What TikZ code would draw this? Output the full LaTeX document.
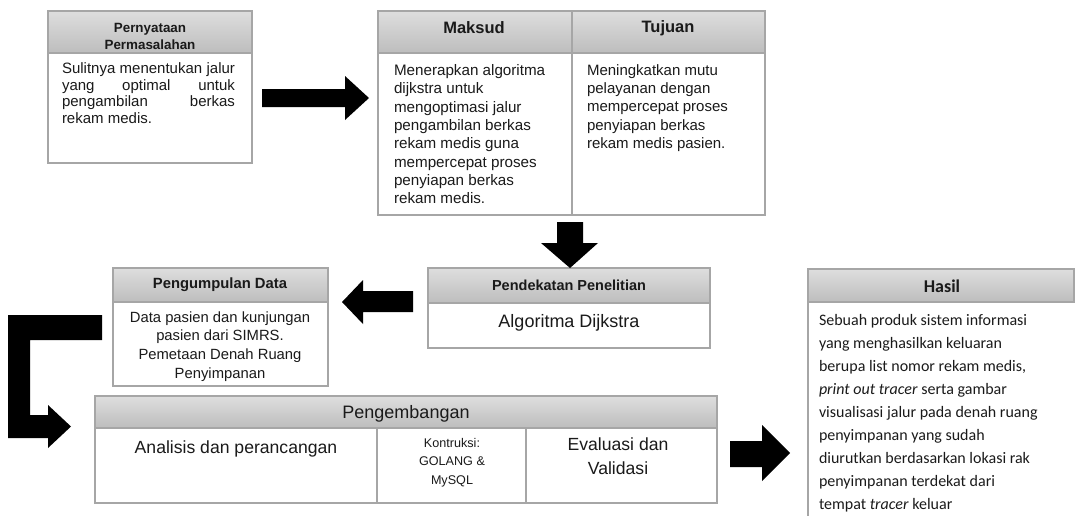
\documentclass[tikz,border=0pt]{standalone}
\usepackage{fontspec}
\setmainfont{Liberation Sans}
\newfontfamily\calfont{Carlito}
\definecolor{bordergray}{HTML}{A6A6A6}
\definecolor{hdrtop}{HTML}{DEDEDE}
\definecolor{hdrbot}{HTML}{BDBDBD}
\definecolor{txt}{HTML}{1A1A1A}
\newcommand\fs[2]{\fontsize{#1}{#2}\selectfont}
\begin{document}
\begin{tikzpicture}[x=1pt,y=-1pt,
  hdr/.style={draw=bordergray,line width=1.2pt,top color=hdrtop,bottom color=hdrbot,anchor=north west,inner sep=0pt,outer sep=0pt},
  cell/.style={draw=bordergray,line width=1.2pt,fill=white,anchor=north west,inner sep=0pt,outer sep=0pt},
  lbl/.style={inner sep=0pt,outer sep=0pt,text=txt},
  blk/.style={fill=black}]
\useasboundingbox (0,0) rectangle (1075,515);
\clip (0,0) rectangle (1075,515);

% ---- Pernyataan Permasalahan
\node[cell,minimum width=204pt,minimum height=110pt] (p1b) at (48,53) {};
\node[hdr,minimum width=204pt,minimum height=42pt] (p1h) at (48,11) {};
\node[lbl,align=center,font=\bfseries\fs{13.4}{17}] (p1ht) at (150,36.8) {Pernyataan\\Permasalahan};
\node[lbl,anchor=north west,align=left,font=\fs{15}{16.7}] (p1t) at (62,62.6)
  {\makebox[173pt][s]{Sulitnya menentukan jalur}\\\makebox[173pt][s]{yang optimal untuk}\\\makebox[173pt][s]{pengambilan berkas}\\rekam medis.};

% ---- Maksud / Tujuan
\node[cell,minimum width=194pt,minimum height=162pt] (m2b) at (378,53) {};
\node[cell,minimum width=193pt,minimum height=162pt] (t2b) at (572,53) {};
\node[hdr,minimum width=194pt,minimum height=42pt] (m2h) at (378,11) {};
\node[hdr,minimum width=193pt,minimum height=42pt] (t2h) at (572,11) {};
\node[lbl,font=\bfseries\fs{16.5}{20}] (m2ht) at (474,28) {Maksud};
\node[lbl,font=\bfseries\fs{16.5}{20}] (t2ht) at (668,28) {Tujuan};
\node[lbl,anchor=north west,align=left,font=\fs{15.2}{18.3}] (m2t) at (394,64.5)
  {Menerapkan algoritma\\dijkstra untuk\\mengoptimasi jalur\\pengambilan berkas\\rekam medis guna\\mempercepat proses\\penyiapan berkas\\rekam medis.};
\node[lbl,anchor=north west,align=left,font=\fs{15}{18.3}] (t2t) at (587,64.5)
  {Meningkatkan mutu\\pelayanan dengan\\mempercepat proses\\penyiapan berkas\\rekam medis pasien.};

% ---- Pendekatan Penelitian
\node[cell,minimum width=282pt,minimum height=45pt] (d3b) at (428,303) {};
\node[hdr,minimum width=282pt,minimum height=35pt] (d3h) at (428,268) {};
\node[lbl,font=\bfseries\fs{14.5}{17}] (d3ht) at (569,285) {Pendekatan Penelitian};
\node[lbl,font=\fs{18}{21}] (d3t) at (569,322.5) {Algoritma Dijkstra};

% ---- Pengumpulan Data
\node[cell,minimum width=215pt,minimum height=84pt] (g4b) at (113,302) {};
\node[hdr,minimum width=215pt,minimum height=34pt] (g4h) at (113,268) {};
\node[lbl,font=\bfseries\fs{14.8}{17}] (g4ht) at (220,285) {Pengumpulan Data};
\node[lbl,align=center,font=\fs{14.8}{18.7}] (g4t) at (220,346.5)
  {Data pasien dan kunjungan\\pasien dari SIMRS.\\Pemetaan Denah Ruang\\Penyimpanan};

% ---- Pengembangan
\node[cell,minimum width=282pt,minimum height=75pt] (e5a) at (95,428) {};
\node[cell,minimum width=149pt,minimum height=75pt] (e5b) at (377,428) {};
\node[cell,minimum width=191pt,minimum height=75pt] (e5c) at (526,428) {};
\node[hdr,minimum width=622pt,minimum height=32pt] (e5h) at (95,396) {};
\node[lbl,font=\fs{18}{21}] (e5ht) at (406,413.5) {Pengembangan};
\node[lbl,font=\fs{17.6}{21}] (e5at) at (236,448.5) {Analisis dan perancangan};
\node[lbl,align=center,font=\fs{12.6}{18.5}] (e5bt) at (452,462.5) {Kontruksi:\\GOLANG \&\\MySQL};
\node[lbl,align=center,font=\fs{17.6}{24}] (e5ct) at (618,456.5) {Evaluasi dan\\Validasi};

% ---- Hasil
\node[lbl,minimum width=266pt,minimum height=220pt,anchor=north west] (h6b) at (808,302) {};
\draw[draw=bordergray,line width=1.2pt] (h6b.north west) -- (h6b.south west);
\node[hdr,minimum width=266pt,minimum height=33pt] (h6h) at (808,269) {};
\node[lbl,font=\calfont\bfseries\fs{18}{21}] (h6ht) at (942,286.5) {Hasil};
\node[lbl,anchor=north west,align=left,font=\calfont\fs{16}{23.1}] (h6t) at (819,314)
  {Sebuah produk sistem informasi\\yang menghasilkan keluaran\\berupa list nomor rekam medis,\\\textit{print out tracer} serta gambar\\visualisasi jalur pada denah ruang\\penyimpanan yang sudah\\diurutkan berdasarkan lokasi rak\\penyimpanan terdekat dari\\tempat \textit{tracer} keluar};

% ---- block arrows
\fill[blk] (262,89) -- (345,89) -- (345,76) -- (369,98) -- (345,120) -- (345,107) -- (262,107) -- cycle;
\fill[blk] (557,222) -- (583,222) -- (583,243) -- (598,243) -- (570,268) -- (541,243) -- (557,243) -- cycle;
\fill[blk] (413,291) -- (363,291) -- (363,280) -- (342,302) -- (363,324) -- (363,312) -- (413,312) -- cycle;
\fill[blk] (8,315) -- (102,315) -- (102,340) -- (30,340) -- (30,415) -- (48,415) -- (48,405) -- (71,426.5) -- (48,448) -- (48,438) -- (8,438) -- cycle;
\fill[blk] (730,441) -- (762,441) -- (762,425) -- (790,453) -- (762,481) -- (762,467) -- (730,467) -- cycle;
\end{tikzpicture}
\end{document}
